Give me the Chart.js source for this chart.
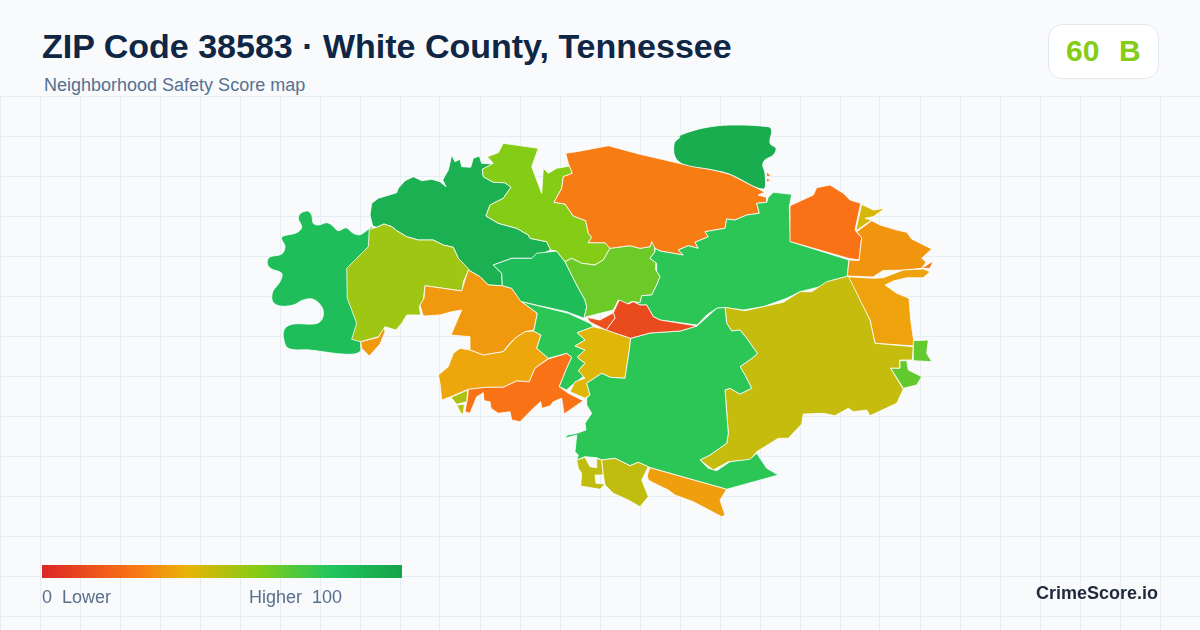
<!DOCTYPE html>
<html><head><meta charset="utf-8">
<script src="https://cdn.jsdelivr.net/npm/chart.js@4"></script>
<style>
html,body{margin:0;padding:0;background:#f8fafc;width:1200px;height:630px;overflow:hidden;font-family:"Liberation Sans",Arial,sans-serif}
#wrap{position:absolute;left:0;top:96px;width:1200px;height:534px}
.t{position:absolute;white-space:pre;line-height:1}
#title{left:42px;top:29px;font-size:34px;font-weight:700;color:#0f2744}
#sub{left:44px;top:76px;font-size:18px;color:#557091}
#badge{position:absolute;left:1048px;top:24px;width:109px;height:53px;background:#fff;border:1px solid #e2e8f0;border-radius:14px}
#score{left:1066px;top:36px;font-size:30px;font-weight:700;color:#84cc16;word-spacing:1.5px}
#bar{position:absolute;left:42px;top:565px;width:360px;height:13px}
#lo{left:42px;top:588px;font-size:18px;color:#5a6f8c}
#hi{left:249px;top:588px;font-size:18px;color:#5a6f8c}
#brand{left:1036px;top:584px;font-size:18px;font-weight:700;color:#1e293b}
</style></head><body>
<div id="wrap"><canvas id="c" width="1200" height="534"></canvas></div>
<div class="t" id="title">ZIP Code 38583 · White County, Tennessee</div>
<div class="t" id="sub">Neighborhood Safety Score map</div>
<div id="badge"></div><div class="t" id="score">60  B</div>
<div id="bar"></div>
<div class="t" id="lo">0  Lower</div><div class="t" id="hi">Higher  100</div>
<div class="t" id="brand">CrimeScore.io</div>
<script>
// Map outlines, in map units, and their scores
const west=[[372.7,226],[368.3,229.3],[360,234.7],[353.3,233.3],[346,227.7],[338.3,230.7],[331.7,225],[326.7,222.7],[318.3,225],[313.3,223.3],[311.7,215],[307.7,211],[300.7,213.3],[298.3,218.3],[301.7,227.3],[296.7,232.7],[281.7,237.3],[285,246.7],[281.7,254],[269.3,257.3],[267.3,264],[271.7,269],[281.7,273.3],[280,281.7],[272.7,291.7],[272.7,301.7],[280,306],[293.3,305],[303.3,300],[313.3,299.3],[321.7,306.7],[323.3,315],[320,321.7],[313.3,324],[293.3,324],[285,328.3],[283.3,336.7],[288.3,348.3],[310,350],[346.7,354.3],[360,351.7],[360.7,341.7],[372,300],[372.7,240]];
const olive=[[369.3,229.3],[376.7,227.3],[384,224],[391.7,226.7],[396.7,230.7],[406.7,236.7],[418.3,240],[433.3,240],[443.3,245],[453.3,247.3],[458.3,258.3],[469,269.3],[463.3,281.7],[462.3,291],[425,285.7],[423.3,300],[419.3,306.7],[420.7,315],[406.7,315],[401.7,323.3],[396,330],[385,326.7],[378.3,336.7],[360.7,341.7],[351.7,339.3],[356.7,323.3],[347.3,298.3],[346.7,268.3],[368.3,246.7]];
const oliveTip=[[360.7,341.7],[378.3,337.3],[384,326.7],[385,331.7],[380,344],[369.3,356],[361.7,348.3]];
const northwest=[[372.7,226],[370,215],[371.7,203.3],[378.3,198.3],[396.7,192.7],[398.3,188.3],[405,180.7],[413.3,176.7],[421.7,180.7],[431.7,179.3],[440,181.7],[446,186.7],[442.7,180],[448.3,170],[451.7,155],[455,161.7],[460,159.3],[461.7,166.7],[470.7,167.3],[473.3,158.3],[479.3,156],[481.7,163.3],[493.3,164],[482.3,169.3],[483.3,176.7],[493.3,182.3],[505,182.7],[511,187.3],[503.3,198.3],[490,205],[486,216],[498.3,223.3],[516.7,228.3],[528.3,235],[530,238.3],[546.7,241.7],[550.7,250],[531.7,258.3],[511.7,258.3],[493.3,265],[501.7,273.3],[502.3,285.7],[488.3,285],[480,276.7],[468.3,270],[458.3,258.3],[453.3,247.3],[443.3,245],[433.3,240],[418.3,240],[406.7,236.7],[396.7,230.7],[391.7,226.7],[384,224],[376.7,227.3]];
const midOrange=[[425,285.7],[461.7,291],[465,280],[468.3,270],[480,276.7],[488.3,285],[502.3,285.7],[511.7,288.3],[521.7,301.7],[537.3,313.3],[534,330],[525,331.7],[515,338.3],[508.3,345],[503.3,351.7],[483.3,355],[470,350],[470,336.7],[451,335],[461.7,310],[451.7,311.7],[440,315],[423.3,316],[420,305],[424,298.3]];
const amber=[[460,348.3],[470,350],[483.3,355],[503.3,351.7],[515,338.3],[525,331.7],[533.3,331],[541,335],[536.7,348.3],[548.3,358.3],[535,368.3],[529.3,381.7],[516.7,381],[503.3,387.3],[486.7,387.3],[468.3,389.3],[450.7,396.7],[441.7,400],[440,383.3],[438.3,375],[448.3,366.7],[453.3,353.3]];
const southOrange=[[468.3,389.3],[486.7,387.3],[503.3,387.3],[516.7,381],[529.3,381.7],[535,368.3],[548.3,359],[566.7,353.3],[571.7,357.3],[566.7,368.3],[559.3,386.7],[568.3,393.3],[583.3,400.7],[564,414],[561.7,398.3],[553.3,401.7],[550,406],[541.7,408.3],[540.7,401.7],[533.3,408.3],[520,421.7],[511.7,420],[510,411.7],[498.3,413.3],[491,408.3],[490,401.7],[484,400.7],[483.3,392.7],[476.7,396.7],[470,413.3],[465,411.7],[467.7,396.7]];
const sliverA=[[451,397.3],[467.7,390],[466.7,401.7],[456.7,404.3]];
const sliverB=[[456.7,405],[464.3,404.3],[463.3,414.3],[460.7,412.7]];
const central=[[493.3,265],[511.7,258.3],[531.7,258.3],[536.7,253.3],[556.7,251],[565,261.7],[576.7,285],[585,300],[586.7,306.7],[584,318.3],[566.7,311.7],[521,301.7],[511.7,288.3],[502.3,285.7],[501.7,273.3]];
const innerGreen=[[521.7,301.7],[568.3,313.3],[590,323.3],[593.3,326.7],[577.3,332.7],[585,340],[575,346],[585,350],[577.3,357.3],[585,363.3],[578.3,370.7],[585,375],[576.7,381.7],[570,386.7],[566.7,390],[559.3,386.7],[566.7,368.3],[571.7,357.3],[566.7,353.3],[548.3,358.3],[536.7,348.3],[541,335],[533.3,331],[534,330],[537.3,313.3]];
const innerYellow=[[593.3,326.7],[606.7,330],[630.7,338.3],[629.3,350],[625,378.3],[610,377.3],[601.7,373.3],[586.7,383.3],[590,395],[585,398.3],[570,391.7],[575,381.7],[585,378.3],[578.3,370.7],[585,363.3],[577.3,357.3],[585,350],[575,346],[585,340],[577.3,332.7]];
const lowest=[[613.3,312.7],[619.3,300],[628.3,304],[633.3,301.7],[640,305],[646.7,305],[653.3,316.7],[660,320],[697,326],[680,331],[650,333],[630.7,338.3],[606,330],[615,318]];
const lowestTab=[[586.7,317.3],[600,320],[613.3,312.7],[615,318],[606,330],[590,322]];
const lime=[[482.3,169.3],[493.3,163.3],[487.3,156.7],[498.3,152.7],[503.3,143.3],[538.3,148.3],[531.7,166.7],[536.7,180],[541.7,193.3],[543.3,168.3],[548.3,173.3],[556.7,168.3],[570,166],[572.3,173.3],[563.3,176.7],[561.7,188.3],[554,202.3],[565,204],[573.3,216],[585.7,220.7],[588.3,233.3],[591.7,237.3],[588.3,242.7],[605,242.7],[610,248.3],[603.3,260],[595,265],[581.7,263.3],[571.7,258.3],[565,261.7],[556.7,251],[550.7,250],[546.7,241.7],[530,238.3],[528.3,235],[516.7,228.3],[498.3,223.3],[486,216],[490,205],[503.3,198.3],[511,187.3],[505,182.7],[493.3,182.3],[483.3,176.7]];
const limeGreen=[[565,261.7],[571.7,258.3],[581.7,263.3],[595,265],[603.3,260],[610,248.3],[630,245.7],[640,248.3],[650,246.7],[651.7,241.7],[655,243.3],[655,251.7],[650,258.3],[656.7,263.3],[656,270],[660,276.7],[656.7,285],[651.7,295],[641.7,295.7],[640,302.7],[631.7,301.7],[626.7,304],[618.3,300],[613.3,310],[586.7,316.7],[584,318.3],[586.7,306.7],[585,300],[576.7,285]];
const bigOrange=[[565.7,153.3],[576.7,151.7],[608.3,145.7],[640,154.3],[683.3,164.3],[713.3,170],[730,174.3],[765,192.3],[758.3,195],[766.7,197.3],[766.7,202.3],[756.7,203.3],[759.3,213.3],[746.7,215],[735,220],[726.7,219],[725,228.3],[705,231.7],[708.3,236.7],[695,242.3],[698.3,248.3],[688.3,245.7],[678.3,250],[683.3,255],[660,251],[655,248.3],[651.7,241.7],[650,246.7],[640,248.3],[630,245.7],[610,248.3],[605,242.7],[588.3,242.7],[591.7,237.3],[588.3,233.3],[585.7,220.7],[573.3,216],[565,204],[554,202.3],[561.7,188.3],[563.3,176.7],[572.3,173.3],[568.3,163.3]];
const eastGreen=[[655,248.3],[660,251],[683.3,255],[678.3,250],[688.3,245.7],[698.3,248.3],[695,242.3],[708.3,236.7],[705,231.7],[725,228.3],[726.7,219],[735,220],[746.7,215],[759.3,213.3],[756.7,203.3],[766.7,202.3],[768.3,197.3],[773.3,192.3],[791.7,194.3],[789.3,206.7],[790.7,241.7],[849,260],[847.3,276.7],[833.3,280],[820,286.7],[800,291.7],[786.7,298.3],[763.3,306.7],[743.3,310],[725,307.7],[716.7,308.3],[706.7,315],[697,325],[660,320],[653.3,316.7],[646.7,305],[640,305],[633.3,301.7],[631.7,301.7],[640,302.7],[641.7,295.7],[651.7,295],[656.7,285],[660,276.7],[656,270],[656.7,263.3],[650,258.3],[655,251.7]];
const north=[[672.3,139],[685,133.3],[705,127.7],[730,125],[768.3,126.7],[771.7,130],[770,143.3],[776,148.3],[773.3,155],[765,160],[762.7,165],[765,173.3],[763.3,189],[730,174.3],[713.3,170],[683.3,164.3],[675,156.7],[674.3,143.3],[680,137]];
const chipA=[[766.7,171.7],[770.7,176],[766.7,176.7]];
const chipB=[[766.7,178.3],[770.7,180],[766,182.7]];
const northeast=[[790,205.7],[813.3,195],[816.7,187.7],[830,185],[843.3,193.3],[850,200],[860.7,203.3],[855,230],[861.7,237.7],[859,260],[848.3,258.3],[790.7,241.7]];
const shard=[[861.7,204.3],[873.3,210],[885,208.3],[873.3,216.7],[865,218.3],[871.7,220],[855.7,231]];
const eastOrange=[[856.7,231.7],[871.7,220.7],[880,225],[896.7,230],[906.7,232.3],[911.7,239],[931.7,249],[921.7,258.3],[926,262.3],[921.7,268.3],[905,270],[883,270.5],[873,277],[847.3,276],[849,260],[859,260.5],[861.7,237.7]];
const spike=[[921.7,268.3],[933.3,261],[930,268.3]];
const eastAmber=[[847.3,276.7],[873.3,278.3],[883.3,277.7],[903.3,270],[923.3,269],[930,271.7],[923.3,277.7],[906.7,277.7],[893.3,281],[885,285],[896.7,293.3],[909,298.3],[910.7,320],[913.3,338.3],[915,346],[875,343.3],[870,320]];
const bigOlive=[[725,307.3],[745,310.7],[783.3,302.3],[800,291.7],[811.7,291.7],[826.7,281.7],[848.3,276],[870,320],[875,343.3],[913.3,346.7],[912.3,360],[900,360],[900,368.3],[890.7,368.3],[903.3,389.3],[896.7,403.3],[870,415.7],[866.7,410],[853.3,411.7],[848.3,408.3],[835,415.7],[823.3,413.3],[803.3,414],[801.7,424],[788.3,438.3],[778.3,438.3],[756.7,451.7],[750,460],[728.3,461.7],[713.3,470],[700,460],[710,455],[726.7,443.3],[728.3,433.3],[725,390],[730,388.3],[740,394],[751.7,388.3],[745,375],[740,366.7],[753.3,357.3],[757.3,353.3],[746.7,338.3],[740,330],[731.7,331],[726.7,323.3]];
const eastTabA=[[913.3,340.7],[928.3,340],[926.7,353.3],[931.7,361.7],[913.3,360.7]];
const eastTabB=[[900,360.7],[906.7,360.7],[908.3,370],[921.7,376.7],[916.7,385],[903.3,388.3],[890.7,368.3],[900,368.3]];
const southGreen=[[630.7,338.3],[650,333],[680,331],[697,326],[716.7,308.3],[725,307.3],[726.7,323.3],[731.7,331],[740,330],[746.7,338.3],[757.3,353.3],[753.3,357.3],[740,366.7],[745,375],[751.7,388.3],[740,394],[730,388.3],[725,390],[728.3,433.3],[726.7,443.3],[710,455],[700,460],[708.3,468.3],[716.7,470.7],[730,461.7],[750,459.3],[756.7,453.3],[766.7,468.3],[778.3,475],[726.7,489.3],[650,467.7],[638.3,462.3],[630,465.7],[615,458.3],[601.7,460],[596.7,457.7],[585,456.7],[576.7,460],[578.3,455],[575,451.7],[576.7,435],[565,438.3],[567.3,435],[576.7,433.3],[586,430],[585,423.3],[591.7,413.3],[586.7,405],[586.7,398],[590,395],[586.7,383.3],[601.7,373.3],[610,377.3],[625,378.3],[629.3,350]];
const southA=[[576.7,460],[585,457.3],[590,466.7],[596.7,467.7],[596.7,458.3],[601.7,460],[603.3,475],[595,475],[596,483.3],[605,484],[600,489.3],[580.7,486],[581.7,473.3],[578.3,468.3]];
const southB=[[601.7,460],[615,458.3],[630,465.7],[638.3,462.3],[648.3,466.7],[641.7,480],[648.3,496.7],[640,506.7],[628.3,500],[613.3,493.3],[605,485],[603.3,475]];
const southC=[[650,467.7],[726.7,489.3],[720,500],[725,515],[721.7,516.7],[693.3,501.7],[675,495],[668.3,490],[653.3,482.7],[648.3,480],[647.3,475]];

const outlines=[west,oliveTip,northwest,olive,midOrange,amber,southOrange,sliverA,sliverB,central,innerGreen,innerYellow,lime,limeGreen,bigOrange,eastGreen,north,chipA,chipB,northeast,shard,eastOrange,spike,eastAmber,bigOlive,eastTabA,eastTabB,southGreen,lowest,lowestTab,southA,southB,southC];
const scores=[84,34,92,55,34,37,25,52,50,85,78,42,60,65,27,78,94,25,25,25,44,33,25,36,47,67,67,78,12,14,48,48,35];
const smoothOutlines=[west,north];

const gridX=[0,40,80,120,160,200,240,280,320,360,400,440,480,520,560,600,640,680,720,760,800,840,880,920,960,1000,1040,1080,1120,1160,1200];
const gridY=[96,136,176,216,256,296,336,376,416,456,496,536,576,616];
const rampStops=[0,25,40,60,80,100];
const rampColors=['#dc2626','#f97316','#eab308','#84cc16','#22c55e','#16a34a'];

function hex(c){return [1,3,5].map(i=>parseInt(c.substr(i,2),16));}
function colorFor(v){
  let i=0; while(i<rampStops.length-2 && v>rampStops[i+1]) i++;
  const t=(v-rampStops[i])/(rampStops[i+1]-rampStops[i]);
  const a=hex(rampColors[i]),b=hex(rampColors[i+1]);
  return 'rgb('+a.map((n,k)=>Math.round(n+(b[k]-n)*t)).join(',')+')';
}
document.getElementById('bar').style.background='linear-gradient(90deg,'+rampStops.map((s,i)=>rampColors[i]+' '+s+'%').join(',')+')';

const datasets=outlines.map((o,i)=>({
  data:o.concat([o[0]]).map(p=>({x:p[0],y:p[1]})),
  showLine:true,fill:'shape',tension:smoothOutlines.includes(o)?0.35:0,pointRadius:0,pointHoverRadius:0,
  backgroundColor:colorFor(scores[i]),borderColor:'#ffffff',borderWidth:0.8,
  borderJoinStyle:'round',order:outlines.length-i,clip:false
}));
new Chart(document.getElementById('c'),{
  type:'scatter',
  data:{datasets},
  options:{
    responsive:false,animation:false,devicePixelRatio:1,
    layout:{padding:0},
    plugins:{legend:{display:false},tooltip:{enabled:false},title:{display:false}},
    scales:{
      x:{type:'linear',min:0,max:1200,
        afterBuildTicks:a=>{a.ticks=gridX.map(v=>({value:v}));},
        ticks:{display:false},border:{display:false},
        grid:{color:'#e6edf3',lineWidth:1,drawTicks:false}},
      y:{type:'linear',min:96,max:630,reverse:true,
        afterBuildTicks:a=>{a.ticks=gridY.map(v=>({value:v}));},
        ticks:{display:false},border:{display:false},
        grid:{color:'#e6edf3',lineWidth:1,drawTicks:false}}
    }
  }
});
</script>
</body></html>
